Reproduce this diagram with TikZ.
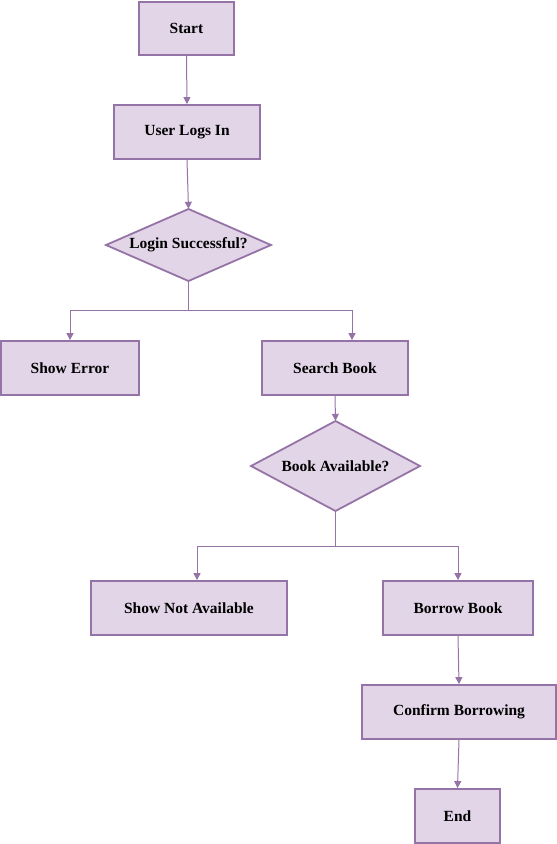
\documentclass[tikz,border=0pt]{standalone}
\usepackage{fontspec}
\setmainfont{Liberation Serif}
\usetikzlibrary{arrows.meta,shapes.geometric}
\definecolor{boxfill}{HTML}{E1D5E7}
\definecolor{boxline}{HTML}{9673A6}
\tikzset{
  x=1pt,y=-1pt,
  txt/.style={font=\fontsize{15.5}{17}\selectfont\bfseries},
  procbox/.style={txt,draw=boxline,fill=boxfill,line width=1.8pt,minimum height=54pt,inner sep=0pt},
  decarea/.style={txt,inner sep=0pt},
  decshape/.style={draw=boxline,fill=boxfill,line width=1.8pt,line join=miter},
  conn/.style={draw=boxline,line width=1pt,-{Triangle[width=7pt,length=7pt]}}
}
\begin{document}
\begin{tikzpicture}
\useasboundingbox (0,0) rectangle (557,844);
% diamond outlines
\draw[decshape] (106,245) -- (188.5,209) -- (271,245) -- (188.5,281) -- cycle;
\draw[decshape] (251,466) -- (335.5,421) -- (420,466) -- (335.5,511) -- cycle;

\node[procbox,minimum width=95pt,minimum height=53pt] (start) at (186.5,28.5) {Start};
\node[procbox,minimum width=146pt] (login) at (187,132) {User Logs In};
\node[decarea,minimum width=165pt,minimum height=72pt] (ok) at (188.5,245) {Login Successful?};
\node[procbox,minimum width=138pt] (err) at (70,368) {Show Error};
\node[procbox,minimum width=146pt] (search) at (335,368) {Search Book};
\node[decarea,minimum width=169pt,minimum height=90pt] (avail) at (335.5,466) {Book Available?};
\node[procbox,minimum width=196pt] (notav) at (189,608) {Show Not Available};
\node[procbox,minimum width=150pt] (borrow) at (458,608) {Borrow Book};
\node[procbox,minimum width=194pt] (confirm) at (459,712) {Confirm Borrowing};
\node[procbox,minimum width=85pt] (end) at (457.5,816) {End};

\coordinate (j1) at (188.5,310);
\coordinate (j1l) at (70,310);
\coordinate (j1r) at (352,310);
\coordinate (j2) at (335.5,546);
\coordinate (j2l) at (197,546);
\coordinate (j2r) at (458,546);

\draw[conn] (start.south) -- (login.north);
\draw[conn] (login.south) -- (ok.north);
\draw[conn] (ok.south) -- (j1) -- (j1l) -- (err.north);
\draw[conn] (j1) -- (j1r) -- (j1r |- search.north);
\draw[conn] (search.south) -- (avail.north);
\draw[conn] (avail.south) -- (j2) -- (j2l) -- (j2l |- notav.north);
\draw[conn] (j2) -- (j2r) -- (borrow.north);
\draw[conn] (borrow.south) -- (confirm.north);
\draw[conn] (confirm.south) -- (end.north);
\end{tikzpicture}
\end{document}
